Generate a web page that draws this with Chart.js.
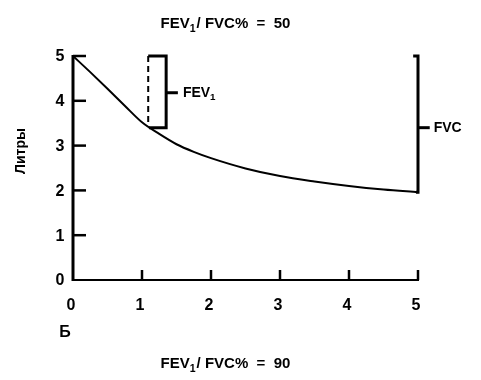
<!DOCTYPE html>
<html>
<head>
<meta charset="utf-8">
<script src="https://cdn.jsdelivr.net/npm/chart.js@4"></script>
<style>
  body { margin:0; background:#fff; }
  canvas { display:block; }
</style>
</head>
<body>
<canvas id="chart" width="481" height="380"></canvas>
<script>
// volume (litres) vs time (s)
const timeX = [0, 0.25, 0.5, 0.75, 1, 1.25, 1.5, 1.75, 2, 2.5, 3, 3.5, 4, 4.5, 5];
const litresY = [5, 4.64, 4.27, 3.89, 3.52, 3.26, 3.03, 2.86, 2.72, 2.49, 2.32, 2.2, 2.1, 2.02, 1.96];
const xTicks = [0, 1, 2, 3, 4, 5];
const yTicks = [0, 1, 2, 3, 4, 5];

// bracket points
const fev1Bracket = [[1.09, 5], [1.35, 5], [1.35, 3.4], [1.1, 3.4]];
const fev1Dash = [[1.09, 5], [1.09, 3.45]];
const fev1Tick = [[1.35, 4.18], [1.52, 4.18]];
const fvcBracket = [[4.93, 5], [5.0, 5], [5.0, 1.96], [4.97, 1.96]];
const fvcTick = [[5.0, 3.4], [5.17, 3.4]];

const topTitle = ['FEV', '1', '/ FVC%  =  50'];
const bottomTitle = ['FEV', '1', '/ FVC%  =  90'];
const yTitle = 'Литры';
const panelLabel = 'Б';

const FONT = '"Liberation Sans", Arial, sans-serif';
const pts = a => a.map(p => ({x: p[0], y: p[1]}));

function seg(data, width, dash){
  return { data: pts(data), showLine: true, borderColor: '#000', borderWidth: width,
    borderDash: dash || [], pointRadius: 0, tension: 0, clip: false };
}

// text with subscript "1"
function subText(ctx, parts, x, y, size, align){
  ctx.font = `bold ${size}px ${FONT}`;
  const w0 = ctx.measureText(parts[0]).width;
  ctx.font = `bold ${size*0.7}px ${FONT}`;
  const w1 = ctx.measureText(parts[1]).width;
  ctx.font = `bold ${size}px ${FONT}`;
  const w2 = ctx.measureText(parts[2] || '').width;
  let sx = align === 'center' ? x - (w0+w1+w2)/2 : x;
  ctx.textAlign = 'left'; ctx.textBaseline = 'middle';
  ctx.fillText(parts[0], sx, y);
  ctx.font = `bold ${size*0.7}px ${FONT}`;
  ctx.fillText(parts[1], sx + w0, y + size*0.35);
  ctx.font = `bold ${size}px ${FONT}`;
  if (parts[2]) ctx.fillText(parts[2], sx + w0 + w1 + 1, y);
}

const axesPlugin = {
  id: 'axesPlugin',
  afterDatasetsDraw(c){
    const ctx = c.ctx, xs = c.scales.x, ys = c.scales.y;
    const x0 = xs.getPixelForValue(0), y0 = ys.getPixelForValue(0);
    const yTop = ys.getPixelForValue(5), xEnd = xs.getPixelForValue(5);
    ctx.save();
    ctx.strokeStyle = '#000'; ctx.fillStyle = '#000';
    // y axis
    ctx.lineWidth = 3;
    ctx.beginPath(); ctx.moveTo(x0, yTop - 1); ctx.lineTo(x0, y0 + 1); ctx.stroke();
    // x axis
    ctx.lineWidth = 2;
    ctx.beginPath(); ctx.moveTo(x0, y0); ctx.lineTo(xEnd + 1, y0); ctx.stroke();
    // y ticks (inward)
    ctx.lineWidth = 2.5;
    yTicks.forEach(v => {
      if (v === 0) return;
      const py = ys.getPixelForValue(v);
      ctx.beginPath(); ctx.moveTo(x0, py); ctx.lineTo(x0 + 13, py); ctx.stroke();
    });
    // x ticks (upward)
    xTicks.forEach(v => {
      if (v === 0) return;
      const px = xs.getPixelForValue(v);
      ctx.beginPath(); ctx.moveTo(px, y0); ctx.lineTo(px, y0 - 10); ctx.stroke();
    });
    // tick labels
    ctx.font = `bold 16px ${FONT}`;
    ctx.textAlign = 'center'; ctx.textBaseline = 'middle';
    yTicks.forEach(v => ctx.fillText(String(v), x0 - 13, ys.getPixelForValue(v) + 1));
    xTicks.forEach(v => ctx.fillText(String(v), xs.getPixelForValue(v) - 2, y0 + 26));
    ctx.fillText(panelLabel, x0 - 8, y0 + 53);
    // y title
    ctx.save();
    ctx.translate(21, 151); ctx.rotate(-Math.PI/2);
    ctx.font = `bold 14px ${FONT}`;
    ctx.fillText(yTitle, 0, 0);
    ctx.restore();
    // bracket labels
    subText(ctx, ['FEV', '1', ''], xs.getPixelForValue(1.52) + 5, ys.getPixelForValue(4.18), 14, 'left');
    ctx.font = `bold 14px ${FONT}`;
    ctx.textAlign = 'left';
    ctx.fillText('FVC', xs.getPixelForValue(5.17) + 4, ys.getPixelForValue(3.4));
    // titles
    subText(ctx, topTitle, 225, 24, 15, 'center');
    subText(ctx, bottomTitle, 225, 364, 15, 'center');
    ctx.restore();
  }
};

new Chart(document.getElementById('chart'), {
  type: 'scatter',
  data: {
    datasets: [
      { data: timeX.map((t, i) => ({x: t, y: litresY[i]})), showLine: true, borderColor: '#000',
        borderWidth: 2, pointRadius: 0, cubicInterpolationMode: 'monotone', clip: false },
      seg(fev1Bracket, 3),
      seg(fev1Dash, 2, [6, 4]),
      seg(fev1Tick, 3),
      seg(fvcBracket, 3),
      seg(fvcTick, 3)
    ]
  },
  options: {
    responsive: false,
    animation: false,
    layout: { padding: { left: 73, right: 63, top: 56, bottom: 100 } },
    scales: {
      x: { type: 'linear', min: 0, max: 5, display: false },
      y: { type: 'linear', min: 0, max: 5, display: false }
    },
    plugins: { legend: { display: false }, tooltip: { enabled: false }, title: { display: false } }
  },
  plugins: [axesPlugin]
});
</script>
</body>
</html>
